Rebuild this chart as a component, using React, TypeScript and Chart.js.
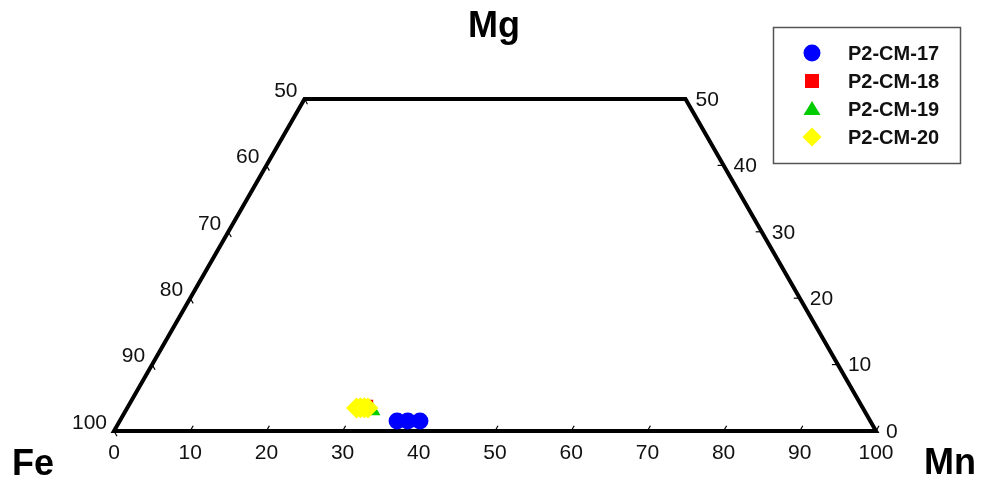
import React, { useEffect, useRef } from "react";
import { Chart, registerables } from "chart.js";

Chart.register(...registerables);

// Ternary compositions (Fe = 100 - Mn - Mg)
const seriesNames = ["P2-CM-17", "P2-CM-18", "P2-CM-19", "P2-CM-20"];
const mnP17 = [36.4, 37.8, 39.4];
const mgP17 = [1.5, 1.5, 1.5];
const mnP18 = [30.9, 31.3];
const mgP18 = [3.75, 3.75];
const mnP19 = [32.5];
const mgP19 = [3.0];
const mnP20 = [30.1, 30.6, 31.1, 31.6];
const mgP20 = [3.45, 3.5, 3.5, 3.45];

const bottomTicks = [0, 10, 20, 30, 40, 50, 60, 70, 80, 90, 100]; // Mn
const leftTicks = [100, 90, 80, 70, 60, 50]; // Fe
const rightTicks = [0, 10, 20, 30, 40, 50]; // Mg

const colors = ["#0000ff", "#ff0000", "#00cc00", "#ffff00"];
const shapes = ["circle", "rect", "triangle", "rectRot"];
const radii = [8.5, 9, 8.5, 10.5];

const FONT = "Arial, 'Liberation Sans', sans-serif";

const toXY = (mn: number[], mg: number[]) =>
  mn.map((m, i) => ({ x: m + mg[i] / 2, y: mg[i] }));

const ternaryPlugin = {
  id: "ternaryFrame",
  beforeDatasetsDraw(chart: any) {
    const { ctx, scales } = chart;
    const xs = scales.x;
    const ys = scales.y;
    const P = (cx: number, cy: number) => [xs.getPixelForValue(cx), ys.getPixelForValue(cy)];
    ctx.save();
    const a = P(0, 0), b = P(100, 0), c = P(75, 50), d = P(25, 50);
    ctx.strokeStyle = "#000";
    ctx.lineWidth = 4;
    ctx.lineJoin = "miter";
    ctx.beginPath();
    ctx.moveTo(a[0], a[1]);
    ctx.lineTo(b[0], b[1]);
    ctx.lineTo(c[0], c[1]);
    ctx.lineTo(d[0], d[1]);
    ctx.closePath();
    ctx.stroke();

    ctx.lineWidth = 1.2;
    ctx.fillStyle = "#111";
    ctx.font = "21px " + FONT;
    const L = 6;
    ctx.textAlign = "center";
    ctx.textBaseline = "middle";
    bottomTicks.forEach((v) => {
      const p = P(v, 0);
      ctx.beginPath();
      ctx.moveTo(p[0], p[1]);
      ctx.lineTo(p[0] + 0.5 * L, p[1] - 0.866 * L);
      ctx.stroke();
      ctx.fillText(String(v), p[0], p[1] + 22);
    });
    ctx.textAlign = "right";
    leftTicks.forEach((v) => {
      const mg = 100 - v;
      const p = P(mg / 2, mg);
      ctx.beginPath();
      ctx.moveTo(p[0], p[1]);
      ctx.lineTo(p[0] + 0.5 * L, p[1] + 0.866 * L);
      ctx.stroke();
      ctx.fillText(String(v), p[0] - 7, p[1] - 8);
    });
    ctx.textAlign = "left";
    rightTicks.forEach((v) => {
      const p = P(100 - v / 2, v);
      ctx.beginPath();
      ctx.moveTo(p[0], p[1]);
      ctx.lineTo(p[0] - L, p[1]);
      ctx.stroke();
      ctx.fillText(String(v), p[0] + 10, p[1] + 1);
    });

    ctx.fillStyle = "#000";
    ctx.font = "bold 36px " + FONT;
    ctx.textBaseline = "alphabetic";
    ctx.textAlign = "center";
    ctx.fillText("Mg", 494, 37);
    ctx.fillText("Fe", 33, 475);
    ctx.fillText("Mn", 950, 474);
    ctx.restore();
  },
  afterDatasetsDraw(chart: any) {
    const { ctx } = chart;
    ctx.save();
    ctx.strokeStyle = "#555";
    ctx.lineWidth = 1.5;
    ctx.strokeRect(773.5, 27.5, 187, 136);
    const rows = [53, 81, 109, 137];
    seriesNames.forEach((name, i) => {
      const cx = 812, cy = rows[i];
      ctx.fillStyle = colors[i];
      ctx.beginPath();
      if (i === 0) {
        ctx.arc(cx, cy, 8.5, 0, Math.PI * 2);
      } else if (i === 1) {
        ctx.rect(cx - 7, cy - 7, 14, 14);
      } else if (i === 2) {
        ctx.moveTo(cx, cy - 8);
        ctx.lineTo(cx + 8.5, cy + 6);
        ctx.lineTo(cx - 8.5, cy + 6);
        ctx.closePath();
      } else {
        ctx.moveTo(cx, cy - 9.5);
        ctx.lineTo(cx + 9.5, cy);
        ctx.lineTo(cx, cy + 9.5);
        ctx.lineTo(cx - 9.5, cy);
        ctx.closePath();
      }
      ctx.fill();
      ctx.fillStyle = "#111";
      ctx.font = "bold 20px " + FONT;
      ctx.textAlign = "left";
      ctx.textBaseline = "middle";
      ctx.fillText(name, 848, cy + 1);
    });
    ctx.restore();
  },
};

export default function App() {
  const ref = useRef<HTMLCanvasElement | null>(null);
  useEffect(() => {
    if (!ref.current) return;
    const seriesData = [
      toXY(mnP17, mgP17),
      toXY(mnP18, mgP18),
      toXY(mnP19, mgP19),
      toXY(mnP20, mgP20),
    ];
    const orders = [4, 3, 2, 1];
    const chart = new Chart(ref.current, {
      type: "scatter",
      data: {
        datasets: seriesNames.map((name, i) => ({
          label: name,
          data: seriesData[i],
          backgroundColor: colors[i],
          borderColor: colors[i],
          borderWidth: 0,
          pointStyle: shapes[i] as any,
          pointRadius: radii[i],
          order: orders[i],
          clip: false as any,
        })),
      },
      options: {
        animation: false,
        responsive: true,
        maintainAspectRatio: false,
        layout: { padding: { left: 114, right: 106, top: 99, bottom: 52 } },
        scales: {
          x: { type: "linear", min: 0, max: 100, display: false },
          y: { type: "linear", min: 0, max: 50, display: false },
        },
        plugins: {
          legend: { display: false },
          tooltip: { enabled: false },
        },
      },
      plugins: [ternaryPlugin],
    });
    return () => chart.destroy();
  }, []);
  return (
    <div style={{ position: "fixed", left: 0, top: 0, width: 982, height: 483, background: "#fff" }}>
      <canvas ref={ref} />
    </div>
  );
}
